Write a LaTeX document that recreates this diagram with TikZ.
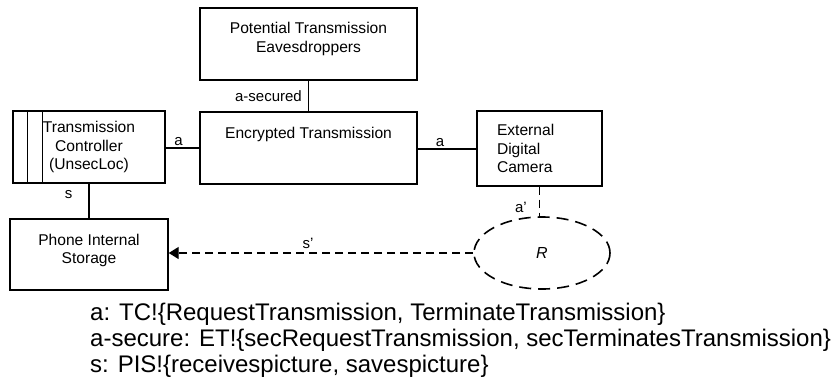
\documentclass[tikz,border=0pt]{standalone}
\usepackage{fontspec}
\setmainfont{Liberation Sans}
\usepackage{tikz}
\usetikzlibrary{shapes}
\usetikzlibrary{arrows.meta}
\usetikzlibrary{positioning}
\usetikzlibrary{calc}
\tikzstyle{boite}=[
        draw,
        rectangle,
        line width=1.4pt,
        inner sep=0pt,
        align=center,
        font=\fontsize{15.6}{18.5}\selectfont
]
\tikzstyle{haut}=[text height=26.6pt,text depth=45.4pt]
\tikzstyle{hautdeux}=[text height=44pt,text depth=28pt]
\tikzstyle{etiq}=[font=\fontsize{15}{18}\selectfont,inner sep=2pt]
\tikzstyle{lien}=[line width=1.4pt]
\tikzstyle{pointille}=[line width=1.4pt,dash pattern=on 8pt off 5pt]
\begin{document}
\begin{tikzpicture}[x=1pt,y=-1pt]
\useasboundingbox (0,0) rectangle (834,383);
\node[boite,hautdeux,minimum width=217pt,minimum height=72pt] (eav) at (308.5,44) {Potential Transmission\\Eavesdroppers};
\node[boite,haut,minimum width=217pt,minimum height=72pt] (enc) at (308.5,148) {Encrypted Transmission};
\node[boite,minimum width=152pt,minimum height=72pt] (tc) at (89,147) {Transmission\\Controller\\(UnsecLoc)};
\node[boite,align=left,text width=85pt,inner xsep=20pt,minimum height=75pt] (cam) at (539.5,148.5) {External\\Digital\\Camera};
\node[boite,hautdeux,text height=44.6pt,text depth=26.4pt,minimum width=158pt,minimum height=71pt] (pis) at (89,254.5) {Phone Internal\\Storage};
\node[ellipse,draw,pointille,line width=1.6pt,dash pattern=on 12pt off 7pt,inner sep=0pt,minimum width=136pt,minimum height=72pt,font=\fontsize{16}{18}\selectfont\itshape] (R) at (542,253) {R};
%bandes du controleur
\draw[lien] ([xshift=15pt]tc.north west) -- ([xshift=15pt]tc.south west);
\draw[lien] ([xshift=30pt]tc.north west) -- ([xshift=30pt]tc.south west);
%liens
\draw[lien] (tc.east |- 0,148) -- (enc.west |- 0,148) node[etiq,midway,above,xshift=-4pt]{a};
\draw[lien] (enc.east |- 0,149) -- (cam.west |- 0,149) node[etiq,midway,above,xshift=-7pt]{a};
\draw[lien] (eav) -- (enc) node[etiq,midway,left,xshift=-4pt]{a-secured};
\draw[lien] (tc) -- (pis) node[etiq,pos=0.3,left,xshift=-14pt]{s};
\draw[pointille] (cam.south) -- (cam.south |- R.north) node[etiq,pos=0.7,left,xshift=-10pt]{a'};
\draw[pointille,-{Triangle[length=10pt,width=12pt]}] (R.west) -- (pis.east |- R.west) node[etiq,midway,above,yshift=2pt,xshift=-13pt]{s'};
%legende
\node[anchor=base west,align=left,inner sep=0pt,font=\fontsize{24}{26}\selectfont] (leg) at (90,372) {a: TC!\{RequestTransmission, TerminateTransmission\}\\a-secure: ET!\{secRequestTransmission, secTerminatesTransmission\}\\s: PIS!\{receivespicture, savespicture\}};
\end{tikzpicture}
\end{document}
